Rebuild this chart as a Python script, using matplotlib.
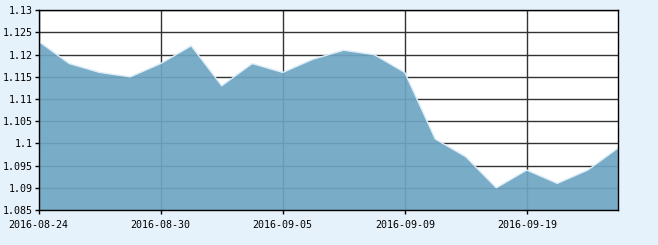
import numpy as np
import matplotlib
matplotlib.use("Agg")
from matplotlib import pyplot as plt

# trading days and values
dates = ["2016-08-24", "2016-08-25", "2016-08-26", "2016-08-29", "2016-08-30",
         "2016-08-31", "2016-09-01", "2016-09-02", "2016-09-05", "2016-09-06",
         "2016-09-07", "2016-09-08", "2016-09-09", "2016-09-12", "2016-09-13",
         "2016-09-14", "2016-09-19", "2016-09-20", "2016-09-21", "2016-09-22"]
values = [1.123, 1.118, 1.116, 1.115, 1.118, 1.122, 1.113, 1.118, 1.116, 1.119,
          1.121, 1.120, 1.116, 1.101, 1.097, 1.090, 1.094, 1.091, 1.094, 1.099]
label_dates = ["2016-08-24", "2016-08-30", "2016-09-05", "2016-09-09", "2016-09-19"]
yticks = [1.085, 1.09, 1.095, 1.1, 1.105, 1.11, 1.115, 1.12, 1.125, 1.13]
ylabels = ["1.085", "1.09", "1.095", "1.1", "1.105", "1.11", "1.115", "1.12", "1.125", "1.13"]

bg = '#e6f2fb'
fig = plt.figure(figsize=(6.58, 2.45), dpi=100, facecolor=bg)
ax = fig.add_axes([38.7/658, 35/245, (618.3-38.7)/658, (210-10.3)/245])
ax.set_facecolor('white')

x = np.arange(len(dates))
ymin = 1.085
ax.fill_between(x, values, ymin, facecolor='#6ea5c3', alpha=0.92, linewidth=0, zorder=3)
ax.plot(x, values, color='#dcedf8', linewidth=1.0, zorder=4)

ax.set_xlim(0, len(dates) - 1)
ax.set_ylim(1.085, 1.13)
ax.set_yticks(yticks)
ax.set_yticklabels(ylabels)
ax.set_xticks([dates.index(d) for d in label_dates])
ax.set_xticklabels(label_dates)

ax.grid(True, color='#333333', linewidth=1.0, zorder=1)
ax.set_axisbelow(True)
for s in ax.spines.values():
    s.set_color('black')
    s.set_linewidth(1.0)
    s.set_zorder(5)

ax.tick_params(direction='out', length=3, width=1, color='black', labelsize=7.2)
ax.tick_params(axis='x', pad=4)
ax.tick_params(axis='y', pad=1.5)
for lab in ax.get_xticklabels() + ax.get_yticklabels():
    lab.set_family('DejaVu Sans Mono')

fig.savefig("out.png", dpi=100, facecolor=bg)
